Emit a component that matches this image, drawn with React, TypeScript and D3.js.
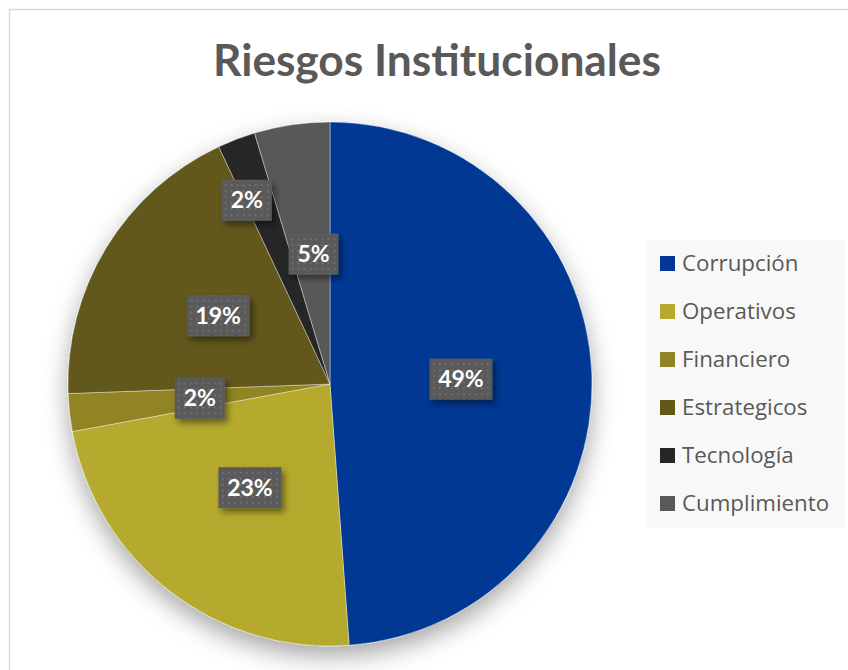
import React from "react";
import * as d3 from "d3";

const categories = ["Corrupción", "Operativos", "Financiero", "Estrategicos", "Tecnología", "Cumplimiento"];
const counts = [21, 10, 1, 8, 1, 2];
const colors = ["#023894", "#b5aa2e", "#908524", "#62581a", "#262626", "#595959"];
const title = "Riesgos Institucionales";

const W = 848;
const H = 670;
const cx = 330;
const cy = 384;
const R = 262;
const labelFactor = [0.5, 0.5, 0.5, 0.5, 0.77, 0.5];
const labelAngleShift = [0, 0, 0, 0, -0.06, 0.02];

export default function App() {
  const total = d3.sum(counts);
  const pie = d3.pie<number>().sort(null).value((d) => d);
  const arcs = pie(counts);
  const arcGen = d3.arc<d3.PieArcDatum<number>>().innerRadius(0).outerRadius(R);
  const fmt = (v: number) => `${Math.round((v / total) * 100)}%`;
  const legendY = d3.scalePoint<string>().domain(categories).range([263.5, 503.5]);

  return (
    <div style={{ position: "fixed", left: 0, top: 0, width: W, height: H, background: "#fff" }}>
      <svg width={W} height={H} style={{ display: "block" }}>
        <defs>
          <filter id="pieShadow" x="-30%" y="-30%" width="160%" height="160%">
            <feDropShadow dx="0" dy="10" stdDeviation="12" floodColor="#000" floodOpacity="0.35" />
          </filter>
          <filter id="boxShadow" x="-30%" y="-30%" width="170%" height="170%">
            <feDropShadow dx="3" dy="4" stdDeviation="3" floodColor="#000" floodOpacity="0.45" />
          </filter>
          <pattern id="dots" width="6" height="6" patternUnits="userSpaceOnUse">
            <rect width="6" height="6" fill="#5a5a5a" />
            <rect x="2" y="2" width="2" height="2" fill="#6e6e6e" />
          </pattern>
        </defs>
        <rect x={9.5} y={9.5} width={W} height={H} fill="#fff" stroke="#d9d9d9" strokeWidth={1.5} />
        <text
          x={437}
          y={76}
          textAnchor="middle"
          fontFamily="Lato, 'Open Sans', sans-serif"
          fontWeight="bold"
          fontSize={44}
          fill="#595959"
          textLength={448}
          lengthAdjust="spacingAndGlyphs"
        >
          {title}
        </text>
        <g transform={`translate(${cx},${cy})`}>
          <g filter="url(#pieShadow)">
            {arcs.map((a, i) => (
              <path key={i} d={arcGen(a) || ""} fill={colors[i]} stroke="#ffffff" strokeOpacity={0.5} strokeWidth={0.75} />
            ))}
          </g>
          {arcs.map((a, i) => {
            const mid = (a.startAngle + a.endAngle) / 2 + labelAngleShift[i];
            const r = R * labelFactor[i];
            const x = r * Math.sin(mid);
            const y = -r * Math.cos(mid);
            const label = fmt(a.value);
            const bw = label.length === 3 ? 63 : 50;
            const bh = 41;
            return (
              <g key={i} transform={`translate(${x},${y})`}>
                <rect x={-bw / 2} y={-bh / 2} width={bw} height={bh} fill="url(#dots)" filter="url(#boxShadow)" />
                <text
                  x={0}
                  y={8}
                  textAnchor="middle"
                  fontFamily="Lato, 'Open Sans', sans-serif"
                  fontWeight="bold"
                  fontSize={23}
                  fill="#ffffff"
                >
                  {label}
                </text>
              </g>
            );
          })}
        </g>
        <rect x={646} y={240} width={199} height={288} fill="#f8f8f8" />
        {categories.map((c, i) => (
          <g key={c} transform={`translate(660,${legendY(c)})`}>
            <rect x={0} y={-7.5} width={15} height={15} fill={colors[i]} />
            <text x={22} y={7.5} fontFamily="'Open Sans', Lato, sans-serif" fontSize={22.3} fill="#595959">
              {c}
            </text>
          </g>
        ))}
      </svg>
    </div>
  );
}
